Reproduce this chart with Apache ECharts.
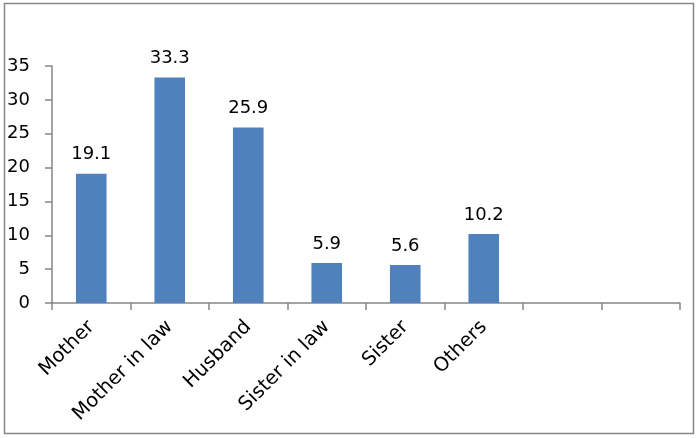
<!DOCTYPE html>
<html>
<head>
<meta charset="utf-8">
<script src="https://cdn.jsdelivr.net/npm/echarts@6/dist/echarts.min.js"></script>
<style>
  html, body { margin: 0; padding: 0; background: #fff; }
  #chart { width: 697px; height: 438px; }
</style>
</head>
<body>
<div id="chart"></div>
<script>
// categories (last two slots are empty in the original)
const categories = ['Mother', 'Mother in law', 'Husband', 'Sister in law', 'Sister', 'Others', '', ''];
const values = [19.1, 33.3, 25.9, 5.9, 5.6, 10.2, null, null];
const yTicks = [0, 5, 10, 15, 20, 25, 30, 35];

const font = 'DejaVu Sans';
const axisGray = '#868686';

const chart = echarts.init(document.getElementById('chart'));
chart.setOption({
  animation: false,
  graphic: [{
    type: 'rect',
    shape: { x: 4.5, y: 3.5, width: 689, height: 430 },
    style: { fill: 'none', stroke: axisGray, lineWidth: 1.5 },
    silent: true
  }],
  grid: { left: 52, right: 17, top: 66, bottom: 135 },
  xAxis: {
    type: 'category',
    data: categories,
    axisLine: { lineStyle: { color: axisGray, width: 1.5 } },
    axisTick: { show: true, length: 7, alignWithLabel: false, lineStyle: { color: axisGray, width: 1.5 } },
    axisLabel: {
      interval: 0,
      rotate: 45,
      margin: 21,
      color: '#000',
      fontFamily: font,
      fontSize: 19.5
    }
  },
  yAxis: {
    type: 'value',
    min: yTicks[0],
    max: yTicks[yTicks.length - 1],
    interval: 5,
    splitLine: { show: false },
    axisLine: { show: true, lineStyle: { color: axisGray, width: 1.5 } },
    axisTick: { show: true, length: 7, lineStyle: { color: axisGray, width: 1.5 } },
    axisLabel: {
      margin: 22,
      color: '#000',
      fontFamily: font,
      fontSize: 18
    }
  },
  series: [{
    type: 'bar',
    data: values,
    barWidth: '39%',
    itemStyle: { color: '#4F81BD' },
    label: {
      show: true,
      position: 'top',
      distance: 10,
      color: '#000',
      fontFamily: font,
      fontSize: 18
    }
  }]
});
</script>
</body>
</html>
